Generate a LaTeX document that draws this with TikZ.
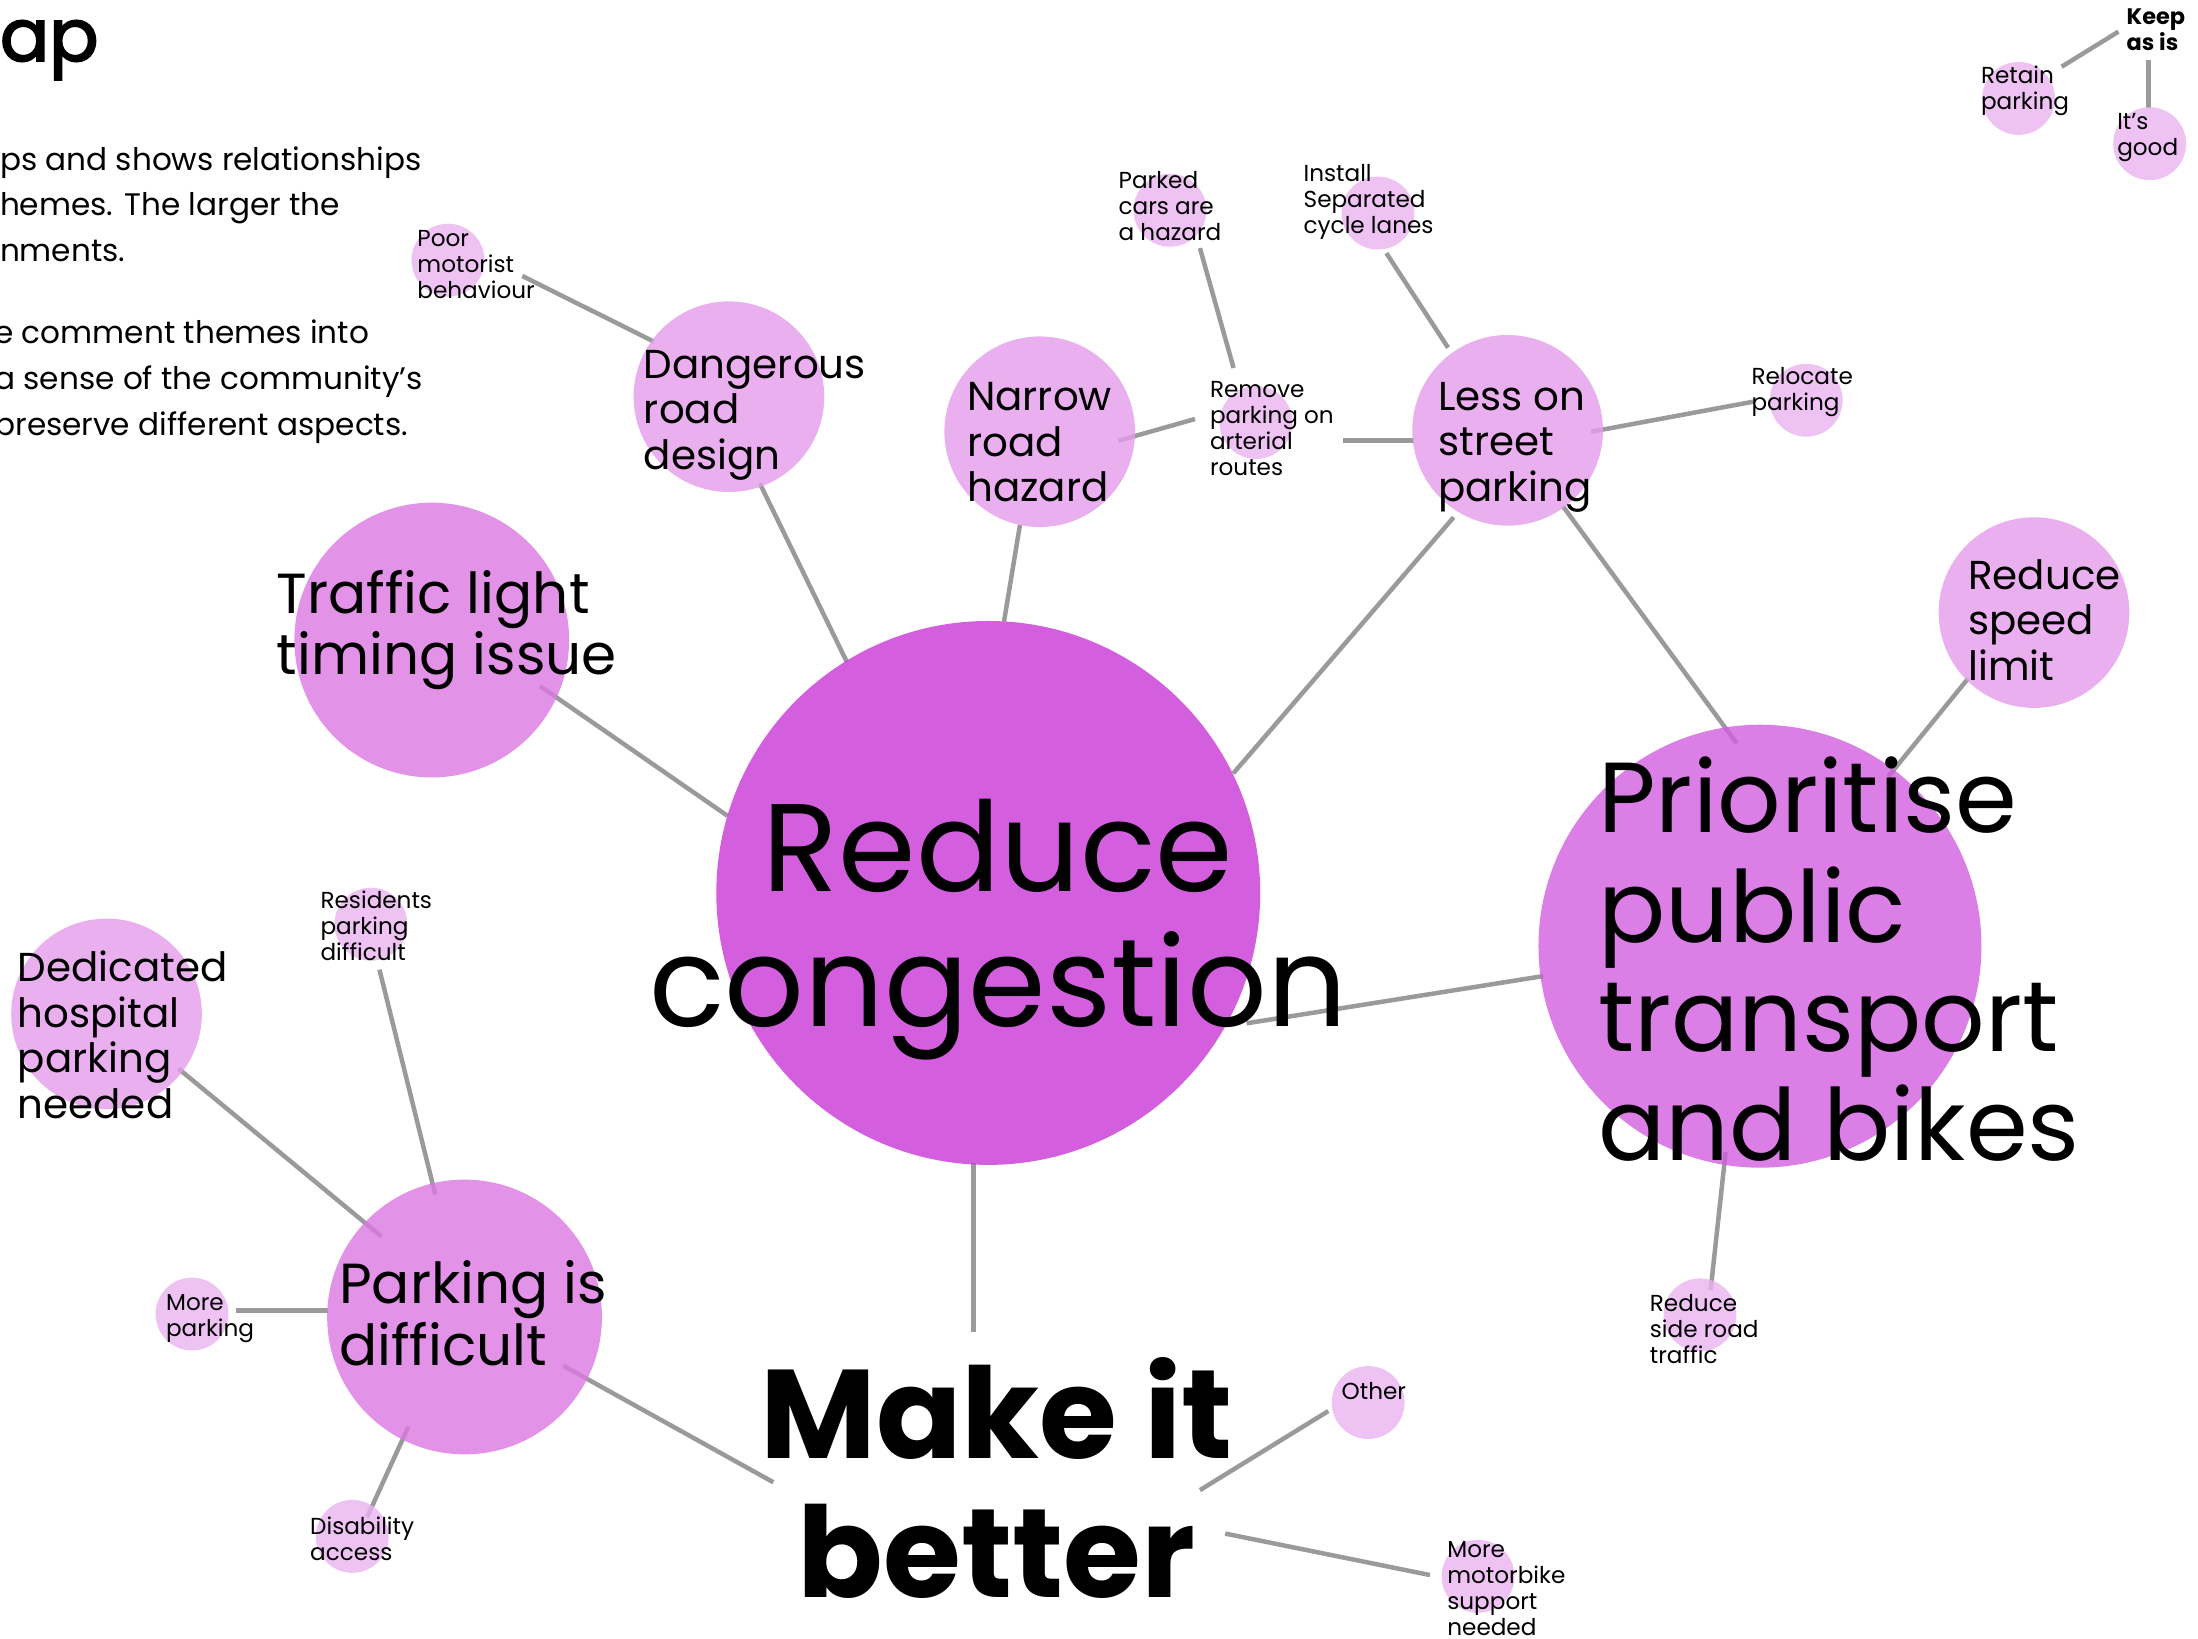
\documentclass[tikz,border=0pt]{standalone}
\usepackage{fontspec}
\setmainfont{Poppins}
\newfontfamily\popmed[FakeBold=2.5]{Poppins}
\definecolor{cBig}{RGB}{200,55,216}
\definecolor{cPri}{RGB}{210,94,224}
\definecolor{cLarge}{RGB}{219,121,226}
\definecolor{cMed}{RGB}{229,156,236}
\definecolor{cSmall}{RGB}{234,179,239}
\definecolor{lineg}{RGB}{154,154,154}
\newcommand{\ml}[1]{\begin{tabular}[t]{@{}l@{}}#1\end{tabular}}
\newcommand{\mc}[1]{\begin{tabular}[t]{@{}c@{}}#1\end{tabular}}
\newcommand{\fsz}[2]{\fontsize{#1}{#2}\selectfont}
\tikzset{
  bub/.style={circle, inner sep=0pt, outer sep=0pt, draw=none, fill opacity=0.8},
  bigb/.style={bub, fill=cBig, minimum size=388pt},
  prib/.style={bub, fill=cPri, minimum size=316pt},
  largeb/.style={bub, fill=cLarge, minimum size=196pt},
  medb/.style={bub, fill=cMed, minimum size=136pt},
  smallb/.style={bub, fill=cSmall, minimum size=52pt},
  lbl/.style={inner sep=0pt, outer sep=0pt, anchor=base west, text=black},
  tsmall/.style={lbl, font=\fsz{16.5}{18.5}},
  tkeep/.style={lbl, font=\fsz{16}{18.5}\bfseries},
  tmed/.style={lbl, font=\fsz{28.8}{32.5}},
  tlarge/.style={lbl, font=\fsz{40.3}{44}},
  tpri/.style={lbl, font=\fsz{71}{78}},
  tcong/.style={lbl, anchor=base, font=\fsz{89}{96}},
  tmake/.style={lbl, anchor=base, font=\fsz{90}{99}\bfseries},
  tpara/.style={lbl, font=\fsz{22.2}{32.7}},
  conn/.style={draw=lineg, line width=3.2pt}
}
\begin{document}
\begin{tikzpicture}[x=1pt,y=-1pt]
\useasboundingbox (0,0) rectangle (1568,1169);
\fill[white] (0,0) rectangle (1568,1169);

% connector end points
\coordinate (poor-e) at (372.6,196.9);  \coordinate (dang-nw) at (466.5,243.7);
\coordinate (dang-s) at (542,344.8);    \coordinate (cong-a) at (604,472);
\coordinate (traf-e) at (385.2,489.4);  \coordinate (cong-b) at (519,582);
\coordinate (narr-s) at (727.6,374.5);  \coordinate (cong-c) at (716.2,443.5);
\coordinate (narr-e) at (797.8,314.4);  \coordinate (rem-w) at (852.5,298.9);
\coordinate (park-s) at (856,177);      \coordinate (rem-n) at (880,262.5);
\coordinate (rem-e) at (958.3,314.4);   \coordinate (less-w) at (1009,314.4);
\coordinate (inst-s) at (989,180.6);    \coordinate (less-n) at (1033,248);
\coordinate (less-e) at (1135,308);     \coordinate (reloc-w) at (1251,286.5);
\coordinate (less-s) at (1037,369);     \coordinate (cong-d) at (879.8,551.7);
\coordinate (less-se) at (1115.2,361.5);\coordinate (pri-n) at (1238.9,530.3);
\coordinate (speed-sw) at (1404,484);   \coordinate (pri-ne) at (1347,554);
\coordinate (cong-e) at (889.3,730);    \coordinate (pri-w) at (1101,696.3);
\coordinate (pri-s) at (1231,822);      \coordinate (side-n) at (1220.3,920.3);
\coordinate (cong-s) at (694.3,829.9);  \coordinate (make-n) at (694.3,950);
\coordinate (pkd-e) at (401.9,974.3);   \coordinate (make-w) at (551.7,1057.4);
\coordinate (make-ne) at (856,1063);    \coordinate (other-w) at (947.6,1006.6);
\coordinate (make-e) at (874,1094);     \coordinate (moto-w) at (1020.1,1123.6);
\coordinate (ded-se) at (127.4,762.4);  \coordinate (pkd-nw) at (272.3,882.2);
\coordinate (res-s) at (270.7,691.7);   \coordinate (pkd-n) at (310.5,852.1);
\coordinate (morep-e) at (168.2,934.7); \coordinate (pkd-w) at (234,934.7);
\coordinate (pkd-s) at (291.4,1017.6);  \coordinate (dis-n) at (261.8,1082.5);
\coordinate (keep-w) at (1511.2,22.6);  \coordinate (ret-ne) at (1470.7,47.6);
\coordinate (keep-s) at (1532.6,42.8);  \coordinate (good-n) at (1532.6,77.3);

% connectors
\draw[conn] (poor-e) -- (dang-nw);
\draw[conn] (dang-s) -- (cong-a);
\draw[conn] (traf-e) -- (cong-b);
\draw[conn] (narr-s) -- (cong-c);
\draw[conn] (narr-e) -- (rem-w);
\draw[conn] (park-s) -- (rem-n);
\draw[conn] (rem-e) -- (less-w);
\draw[conn] (inst-s) -- (less-n);
\draw[conn] (less-e) -- (reloc-w);
\draw[conn] (less-s) -- (cong-d);
\draw[conn] (less-se) -- (pri-n);
\draw[conn] (speed-sw) -- (pri-ne);
\draw[conn] (cong-e) -- (pri-w);
\draw[conn] (pri-s) -- (side-n);
\draw[conn] (cong-s) -- (make-n);
\draw[conn] (pkd-e) -- (make-w);
\draw[conn] (make-ne) -- (other-w);
\draw[conn] (make-e) -- (moto-w);
\draw[conn] (ded-se) -- (pkd-nw);
\draw[conn] (res-s) -- (pkd-n);
\draw[conn] (morep-e) -- (pkd-w);
\draw[conn] (pkd-s) -- (dis-n);
\draw[conn] (keep-w) -- (ret-ne);
\draw[conn] (keep-s) -- (good-n);

% bubbles
\node[bigb]   (b-cong)  at (705,637) {};
\node[prib]   (b-pri)   at (1255.5,675) {};
\node[largeb] (b-traf)  at (308,456.6) {};
\node[largeb] (b-pkd)   at (331.4,939.5) {};
\node[medb]   (b-dang)  at (520,283) {};
\node[medb]   (b-narr)  at (741.7,308) {};
\node[medb]   (b-less)  at (1075.5,307) {};
\node[medb]   (b-speed) at (1451,437) {};
\node[medb]   (b-ded)   at (76,723.3) {};
\node[smallb] (b-poor)  at (319.6,185.6) {};
\node[smallb] (b-park)  at (834.6,150) {};
\node[smallb] (b-inst)  at (983,152) {};
\node[smallb] (b-rem)   at (896,301.4) {};
\node[smallb] (b-reloc) at (1288.5,285.5) {};
\node[smallb] (b-side)  at (1212.7,938) {};
\node[smallb] (b-other) at (976,1000.5) {};
\node[smallb] (b-moto)  at (1054.4,1124.5) {};
\node[smallb] (b-res)   at (264.6,659.3) {};
\node[smallb] (b-morep) at (137,937.4) {};
\node[smallb] (b-dis)   at (251.3,1096) {};
\node[smallb] (b-ret)   at (1440,70.2) {};
\node[smallb] (b-good)  at (1533.5,102.5) {};

% title and paragraph
\node[lbl, font=\fsz{52}{52}\popmed] (title) at (0,43.5) {ap};
\node[tpara] (para1) at (0,121.3) {\ml{ps and shows relationships\\hemes. The larger the\\nments.}};
\node[tpara] (para2) at (-4,245) {\ml{e comment themes into\\a sense of the community’s\\preserve different aspects.}};

% labels
\node[tcong] (t-cong) at (712,636) {\mc{Reduce\\congestion}};
\node[tmake] (t-make) at (711,1040.3) {\mc{Make it\\better}};
\node[tpri] (t-pri) at (1140.2,594) {\ml{Prioritise\\public\\transport\\and bikes}};
\node[tlarge] (t-traf) at (197.4,437.4) {\ml{Traffic light\\timing issue}};
\node[tlarge] (t-pkd) at (242,930) {\ml{Parking is\\difficult}};
\node[tmed] (t-dang) at (459.4,269.9) {\ml{Dangerous\\road\\design}};
\node[tmed] (t-narr) at (690,293) {\ml{Narrow\\road\\hazard}};
\node[tmed] (t-less) at (1026,292.5) {\ml{Less on\\street\\parking}};
\node[tmed] (t-speed) at (1404.2,420.4) {\ml{Reduce\\speed\\limit}};
\node[tmed] (t-ded) at (12.7,700.2) {\ml{Dedicated\\hospital\\parking\\needed}};
\node[tsmall] (t-poor) at (297.8,176) {\ml{Poor\\motorist\\behaviour}};
\node[tsmall] (t-park) at (798,134.3) {\ml{Parked\\cars are\\a hazard}};
\node[tsmall] (t-inst) at (930,129.6) {\ml{Install\\Separated\\cycle lanes}};
\node[tsmall] (t-rem) at (863.2,283.5) {\ml{Remove\\parking on\\arterial\\routes}};
\node[tsmall] (t-reloc) at (1249.5,274.6) {\ml{Relocate\\parking}};
\node[tsmall] (t-side) at (1177,935.7) {\ml{Reduce\\side road\\traffic}};
\node[tsmall] (t-other) at (957.1,998.7) {Other};
\node[tsmall] (t-moto) at (1032.5,1111.2) {\ml{More\\motorbike\\support\\needed}};
\node[tsmall] (t-res) at (228.7,648) {\ml{Residents\\parking\\difficult}};
\node[tsmall] (t-morep) at (118.5,934.7) {\ml{More\\parking}};
\node[tsmall] (t-dis) at (221.3,1094.4) {\ml{Disability\\access}};
\node[tsmall] (t-ret) at (1413.2,59.4) {\ml{Retain\\parking}};
\node[tsmall] (t-good) at (1510.4,92.7) {\ml{It’s\\good}};
\node[tkeep] (t-keep) at (1517.1,17.8) {\ml{Keep\\as is}};
\end{tikzpicture}
\end{document}
